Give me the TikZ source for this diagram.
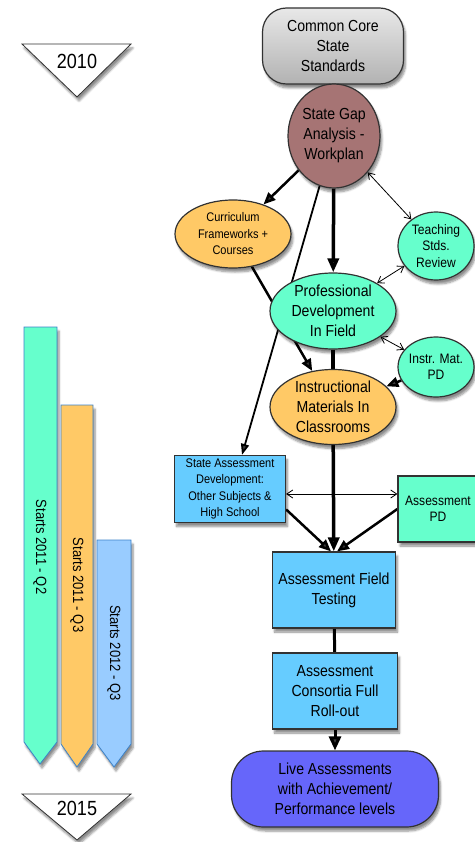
\documentclass[tikz,border=0pt]{standalone}
\usepackage{fontspec}
\setmainfont[FakeStretch=0.88]{Liberation Sans}
\usetikzlibrary{shapes.geometric}
\usetikzlibrary{arrows.meta}
\usetikzlibrary{shadows.blur}
\usetikzlibrary{backgrounds}

\definecolor{nodeline}{RGB}{50,50,50}
\definecolor{cctop}{RGB}{232,232,232}
\definecolor{ccbottom}{RGB}{178,178,178}
\definecolor{gapred}{RGB}{166,116,116}
\definecolor{orangefill}{RGB}{255,201,102}
\definecolor{mintfill}{RGB}{102,255,204}
\definecolor{skyfill}{RGB}{102,204,255}
\definecolor{livefill}{RGB}{102,102,250}
\definecolor{barblue}{RGB}{153,204,255}
\definecolor{barline}{RGB}{60,130,200}

\begin{document}
\begin{tikzpicture}[x=1pt, y=-1pt,
    dropshade/.style={blur shadow={shadow xshift=2pt, shadow yshift=-4pt, shadow blur steps=6, shadow opacity=45}},
    oval/.style={ellipse, draw=nodeline, line width=1.2pt, inner sep=-40pt, align=center, dropshade},
    box/.style={rectangle, draw=nodeline, line width=1.2pt, inner sep=0pt, align=center, dropshade},
    bigtext/.style={font=\fontsize{16}{20}\selectfont},
    midtext/.style={font=\fontsize{13.7}{16.5}\selectfont},
    smalltext/.style={font=\fontsize{12.5}{16.5}\selectfont},
    boldarrow/.style={line width=2.5pt, -{Triangle[length=12pt, width=10pt]}},
    pairarrow/.style={line width=0.8pt, {Straight Barb[length=6pt, width=8pt]}-{Straight Barb[length=6pt, width=8pt]}},
    bar/.style={draw=barline, line width=0.8pt, dropshade},
    year/.style={fill=white, draw=nodeline, line width=0.8pt, dropshade}]
    \useasboundingbox (0,0) rectangle (474,842);

    \filldraw[year] (22,44) -- (131,44) -- (77,97) -- cycle;
    \node[font=\fontsize{20.5}{22}\selectfont] (y2010) at (77,61) {2010};
    \filldraw[year] (22,794) -- (131,794) -- (77,840) -- cycle;
    \node[font=\fontsize{20.5}{22}\selectfont] (y2015) at (77,808) {2015};

    \filldraw[bar, fill=mintfill] (24,327) -- (57,327) -- (57,742) -- (40,764) -- (24,742) -- cycle;
    \filldraw[bar, fill=orangefill] (61,405) -- (93,405) -- (93,744) -- (77,767) -- (61,744) -- cycle;
    \filldraw[bar, fill=barblue] (97,540) -- (131,540) -- (131,744) -- (114,767) -- (97,744) -- cycle;
    \node[rotate=-90, font=\fontsize{14.8}{16}\selectfont] (q2) at (40,547) {Starts 2011 - Q2};
    \node[rotate=-90, font=\fontsize{14.8}{16}\selectfont] (q3) at (77,585) {Starts 2011 - Q3};
    \node[rotate=-90, font=\fontsize{14.8}{16}\selectfont] (q3b) at (114,653) {Starts 2012 - Q3};

    \node[box, bigtext, rounded corners=24pt, top color=cctop, bottom color=ccbottom, minimum width=141pt, minimum height=76pt] (cc) at (333,46) {Common Core\\State\\Standards};
    \node[oval, bigtext, fill=gapred, minimum width=92pt, minimum height=104pt] (gap) at (334,136) {State Gap\\Analysis -\\Workplan};
    \node[oval, smalltext, fill=orangefill, minimum width=116pt, minimum height=68pt] (cur) at (233,234) {Curriculum\\Frameworks +\\Courses};
    \node[oval, midtext, fill=mintfill, minimum width=76pt, minimum height=68pt] (tsr) at (436,246) {Teaching\\Stds.\\Review};
    \node[oval, bigtext, fill=mintfill, minimum width=126pt, minimum height=76pt] (pd) at (333,311) {Professional\\Development\\In Field};
    \node[oval, midtext, fill=mintfill, minimum width=76pt, minimum height=60pt] (imp) at (436,367) {Instr. Mat.\\PD};
    \node[oval, bigtext, fill=orangefill, minimum width=126pt, minimum height=75pt] (im) at (333,407) {Instructional\\Materials In\\Classrooms};
    \node[box, smalltext, fill=skyfill, minimum width=111pt, minimum height=67pt] (sad) at (230,489) {State Assessment\\Development:\\Other Subjects \&\\High School};
    \node[box, midtext, fill=mintfill, minimum width=80pt, minimum height=66pt] (apd) at (438,509) {Assessment\\PD};
    \node[box, bigtext, fill=skyfill, minimum width=123pt, minimum height=76pt] (ft) at (334,590) {Assessment Field\\Testing};
    \node[box, bigtext, fill=skyfill, minimum width=125pt, minimum height=76pt] (cons) at (335,691) {Assessment\\Consortia Full\\Roll-out};
    \node[box, bigtext, rounded corners=32pt, fill=livefill, minimum width=207pt, minimum height=76pt] (live) at (335,789) {Live Assessments\\with Achievement/\\Performance levels};

    \begin{pgfonlayer}{background}
        \draw[boldarrow] (gap) -- (cur);
        \draw[boldarrow, line width=3.5pt, -{Triangle[length=14pt, width=11pt]}] (gap) -- (pd);
        \draw[line width=1.8pt, -{Triangle[length=11pt, width=8pt]}] (gap) -- ([xshift=12pt]sad.north);
        \draw[boldarrow] (cur) -- (im);
        \draw[line width=3.5pt] (pd) -- (im);
        \draw[pairarrow] (gap) -- (tsr);
        \draw[pairarrow] (tsr) -- (pd);
        \draw[pairarrow] (pd) -- (imp);
        \draw[boldarrow] (imp) -- (im);
        \draw[boldarrow, line width=3.5pt, -{Triangle[length=14pt, width=11pt]}] (im) -- (ft);
        \draw[pairarrow] ([yshift=-5pt]sad.east) -- ([yshift=-5pt]sad.east -| apd.west);
        \draw[boldarrow] (sad.-20) -- ([xshift=-3pt]ft.north);
        \draw[boldarrow] (apd.west) -- ([xshift=3pt]ft.north);
        \draw[line width=3pt] (ft) -- (cons);
        \draw[boldarrow, line width=3pt, -{Triangle[length=14pt, width=12pt]}] (cons) -- (live);
    \end{pgfonlayer}
\end{tikzpicture}
\end{document}
